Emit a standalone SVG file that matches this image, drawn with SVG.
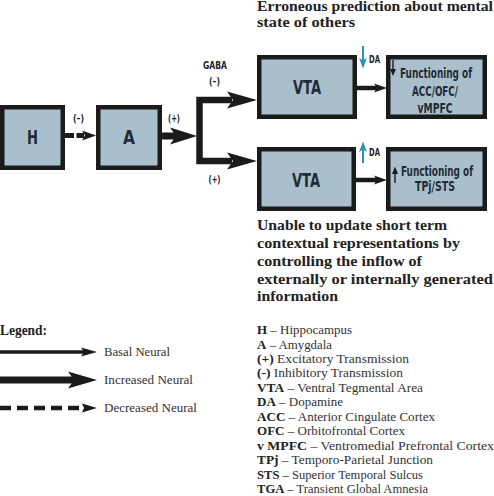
<svg xmlns="http://www.w3.org/2000/svg" width="494" height="496" viewBox="0 0 494 496">
<style>
.box{fill:#a9c0cc;stroke:#1b1b1b;stroke-width:4.5}
.bl{font-family:"Liberation Sans Narrow","DejaVu Sans Condensed","Liberation Sans",sans-serif;font-weight:bold;fill:#1f2b36;text-anchor:middle}
.lab{font-family:"Liberation Sans Narrow","DejaVu Sans Condensed","Liberation Sans",sans-serif;font-weight:bold;fill:#222;font-size:11px}
.hd{font-family:"Liberation Serif","DejaVu Serif",serif;font-weight:bold;fill:#222;font-size:14px}
.lg{font-family:"Liberation Serif","DejaVu Serif",serif;fill:#333;font-size:12px}
.ab{font-family:"Liberation Serif","DejaVu Serif",serif;fill:#333;font-size:12.5px}
.ab tspan.b{font-weight:bold;fill:#222}
.blk{fill:#1b1b1b}
.teal{fill:#2a93ad}
</style>

<g id="node-H"><rect class="box" x="2.25" y="107.25" width="60.5" height="60.5"/><text class="bl" x="32.5" y="144" font-size="20" textLength="11" lengthAdjust="spacingAndGlyphs">H</text></g>
<g id="node-A"><rect class="box" x="98.25" y="107.25" width="61.5" height="60.5"/><text class="bl" x="129" y="144" font-size="20" textLength="12" lengthAdjust="spacingAndGlyphs">A</text></g>
<g id="node-VTA1"><rect class="box" x="259.25" y="57.25" width="95.5" height="59.5"/><text class="bl" x="307" y="94" font-size="20" textLength="28" lengthAdjust="spacingAndGlyphs">VTA</text></g>
<g id="node-F1"><rect class="box" x="388.25" y="57.25" width="96.5" height="59.5"/>
<text class="bl" transform="translate(436,77.5) scale(0.71,1)" font-size="14" textLength="101.4" lengthAdjust="spacingAndGlyphs">Functioning of</text>
<text class="bl" transform="translate(435,96) scale(0.71,1)" font-size="14" textLength="64.8" lengthAdjust="spacingAndGlyphs">ACC/OFC/</text>
<text class="bl" transform="translate(435,113) scale(0.71,1)" font-size="14" textLength="49.3" lengthAdjust="spacingAndGlyphs">vMPFC</text>
<line x1="393" y1="60" x2="393" y2="70" stroke="#1b1b1b" stroke-width="1.4"/><polygon class="blk" points="390,69 393,76 396,69"/>
</g>
<g id="node-VTA2"><rect class="box" x="259.25" y="149.25" width="94.5" height="59.5"/><text class="bl" x="306" y="186.5" font-size="20" textLength="28" lengthAdjust="spacingAndGlyphs">VTA</text></g>
<g id="node-F2"><rect class="box" x="388.25" y="149.25" width="96.5" height="59.5"/>
<text class="bl" transform="translate(437,175.5) scale(0.71,1)" font-size="14" textLength="101.4" lengthAdjust="spacingAndGlyphs">Functioning of</text>
<text class="bl" transform="translate(435,191) scale(0.71,1)" font-size="14" textLength="56.3" lengthAdjust="spacingAndGlyphs">TPj/STS</text>
<line x1="395" y1="183" x2="395" y2="173" stroke="#1b1b1b" stroke-width="1.4"/><polygon class="blk" points="392,174 395,166.5 398,174"/>
</g>

<g id="connectors">
<line x1="65" y1="135.5" x2="84" y2="135.5" stroke="#1b1b1b" stroke-width="5" stroke-dasharray="9 2.5"/>
<polygon class="blk" points="82,130.5 96,135.5 82,140.5 85,135.5"/>
<line x1="162" y1="136" x2="176" y2="136" stroke="#1b1b1b" stroke-width="7"/>
<polygon class="blk" points="170,127.5 197,136 170,144.5 176,136"/>
<path d="M232,100 H199.5 V161 H232" fill="none" stroke="#1b1b1b" stroke-width="6.5"/>
<polygon class="blk" points="227,91.5 257,100 227,108.5 233,100"/>
<polygon class="blk" points="227,152.5 257,161 227,169.5 233,161"/>
<line x1="357" y1="88" x2="378" y2="88" stroke="#1b1b1b" stroke-width="4.5"/>
<polygon class="blk" points="374,83.5 387,88 374,92.5 377,88"/>
<line x1="356" y1="180" x2="378" y2="180" stroke="#1b1b1b" stroke-width="4.5"/>
<polygon class="blk" points="374,175.5 387,180 374,184.5 377,180"/>
<line x1="363" y1="46" x2="363" y2="62" stroke="#2a93ad" stroke-width="2"/>
<polygon class="teal" points="359,58 363,68.5 367,58 363,60.5"/>
<line x1="363" y1="163" x2="363" y2="148" stroke="#2a93ad" stroke-width="2"/>
<polygon class="teal" points="359,152 363,141.5 367,152 363,149.5"/>
</g>

<g id="labels">
<text class="lab" x="78.5" y="121.5" text-anchor="middle" textLength="11" lengthAdjust="spacingAndGlyphs">(–)</text>
<text class="lab" x="174" y="121.5" text-anchor="middle" textLength="12" lengthAdjust="spacingAndGlyphs">(+)</text>
<text class="lab" x="215" y="69" text-anchor="middle" font-size="12" textLength="24" lengthAdjust="spacingAndGlyphs">GABA</text>
<text class="lab" x="214.5" y="84.5" text-anchor="middle" textLength="11" lengthAdjust="spacingAndGlyphs">(–)</text>
<text class="lab" x="214.5" y="182.5" text-anchor="middle" textLength="12" lengthAdjust="spacingAndGlyphs">(+)</text>
<text class="lab" x="369" y="63" textLength="11" lengthAdjust="spacingAndGlyphs">DA</text>
<text class="lab" x="369" y="156" textLength="11" lengthAdjust="spacingAndGlyphs">DA</text>
</g>

<g id="notes">
<text class="hd" x="257" y="11" textLength="236" lengthAdjust="spacingAndGlyphs">Erroneous prediction about mental</text>
<text class="hd" x="257" y="27" textLength="98" lengthAdjust="spacingAndGlyphs">state of others</text>
<text class="hd" x="257" y="229.5" textLength="190" lengthAdjust="spacingAndGlyphs">Unable to update short term</text>
<text class="hd" x="257" y="247.5" textLength="203" lengthAdjust="spacingAndGlyphs">contextual representations by</text>
<text class="hd" x="257" y="265.5" textLength="165" lengthAdjust="spacingAndGlyphs">controlling the inflow of</text>
<text class="hd" x="257" y="283.5" textLength="236" lengthAdjust="spacingAndGlyphs">externally or internally generated</text>
<text class="hd" x="257" y="300.5" textLength="81" lengthAdjust="spacingAndGlyphs">information</text>
</g>

<g id="legend">
<text class="hd" x="0" y="335" font-size="12" textLength="47" lengthAdjust="spacingAndGlyphs">Legend:</text>
<line x1="0" y1="352" x2="86" y2="352" stroke="#1b1b1b" stroke-width="3.5"/>
<polygon class="blk" points="81,347.5 97,352 81,356.5 84,352"/>
<text class="lg" x="104" y="355.5" textLength="66" lengthAdjust="spacingAndGlyphs">Basal Neural</text>
<line x1="0" y1="380" x2="74" y2="380" stroke="#1b1b1b" stroke-width="7"/>
<polygon class="blk" points="68,371.5 97,380 68,388.5 74,380"/>
<text class="lg" x="104" y="384" textLength="89" lengthAdjust="spacingAndGlyphs">Increased Neural</text>
<line x1="0" y1="408" x2="82" y2="408" stroke="#1b1b1b" stroke-width="4.5" stroke-dasharray="11 6"/>
<polygon class="blk" points="82,403.5 97,408 82,412.5 84,408"/>
<text class="lg" x="104" y="412" textLength="93" lengthAdjust="spacingAndGlyphs">Decreased Neural</text>
</g>

<g id="abbreviations">
<text class="ab" x="257" y="334" textLength="95" lengthAdjust="spacingAndGlyphs"><tspan class="b">H</tspan> – Hippocampus</text>
<text class="ab" x="257" y="348.5" textLength="75" lengthAdjust="spacingAndGlyphs"><tspan class="b">A</tspan> – Amygdala</text>
<text class="ab" x="257" y="363" textLength="152" lengthAdjust="spacingAndGlyphs"><tspan class="b">(+)</tspan> Excitatory Transmission</text>
<text class="ab" x="257" y="377.4" textLength="146" lengthAdjust="spacingAndGlyphs"><tspan class="b">(-)</tspan> Inhibitory Transmission</text>
<text class="ab" x="257" y="391.8" textLength="166" lengthAdjust="spacingAndGlyphs"><tspan class="b">VTA</tspan> – Ventral Tegmental Area</text>
<text class="ab" x="257" y="406.3" textLength="86" lengthAdjust="spacingAndGlyphs"><tspan class="b">DA</tspan> – Dopamine</text>
<text class="ab" x="257" y="420.7" textLength="178" lengthAdjust="spacingAndGlyphs"><tspan class="b">ACC</tspan> – Anterior Cingulate Cortex</text>
<text class="ab" x="257" y="435.2" textLength="148" lengthAdjust="spacingAndGlyphs"><tspan class="b">OFC</tspan> – Orbitofrontal Cortex</text>
<text class="ab" x="257" y="449.6" textLength="237" lengthAdjust="spacingAndGlyphs"><tspan class="b">v MPFC</tspan> – Ventromedial Prefrontal Cortex</text>
<text class="ab" x="257" y="464.1" textLength="176" lengthAdjust="spacingAndGlyphs"><tspan class="b">TPj</tspan> – Temporo-Parietal Junction</text>
<text class="ab" x="257" y="478.5" textLength="166" lengthAdjust="spacingAndGlyphs"><tspan class="b">STS</tspan> – Superior Temporal Sulcus</text>
<text class="ab" x="257" y="493" textLength="171" lengthAdjust="spacingAndGlyphs"><tspan class="b">TGA</tspan> – Transient Global Amnesia</text>
</g>
</svg>
